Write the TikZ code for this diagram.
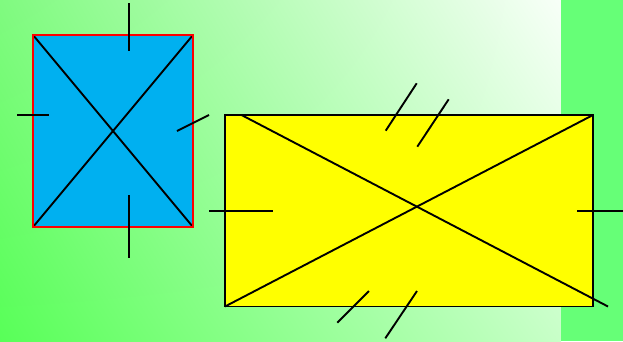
\documentclass[tikz,border=0pt]{standalone}
\usetikzlibrary{calc,shadings}
\definecolor{bgBL}{RGB}{88,255,88}
\definecolor{bgTL}{RGB}{128,250,128}
\definecolor{bgTR}{RGB}{248,255,248}
\definecolor{bgBR}{RGB}{200,255,200}
\definecolor{strip}{RGB}{102,255,119}
\definecolor{skyblue}{RGB}{0,176,240}
\definecolor{yel}{RGB}{255,255,0}
\tikzset{
  ink/.style={line width=1.9pt, black},
  tick/.style={line width=1.9pt, black},
}
\begin{document}
\begin{tikzpicture}[x=1pt,y=-1pt]
\useasboundingbox (0,0) rectangle (623,341);
% background
\shade[upper left=bgTL, upper right=bgTR, lower left=bgBL, lower right=bgBR] (0,0) rectangle (561,341);
\fill[strip] (561,0) rectangle (623,341);
% blue rectangle
\coordinate (b1) at (33,35);
\coordinate (b2) at (193,35);
\coordinate (b3) at (193,227);
\coordinate (b4) at (33,227);
\fill[skyblue] (b1) rectangle (b3);
\draw[ink] (b1) -- (b3);
\draw[ink] (b2) -- (b4);
\draw[red, line width=1.9pt] (b1) rectangle (b3);
\draw[tick] (129,3) -- (129,51);
\draw[tick] (17,115) -- (49,115);
\draw[tick] (177,131) -- (209,115);
\draw[tick] (129,195) -- (129,258);
% yellow rectangle
\coordinate (y1) at (225,115);
\coordinate (y2) at (593,115);
\coordinate (y3) at (593,306.5);
\coordinate (y4) at (225,306.5);
\fill[yel] (y1) rectangle (y3);
\draw[ink] (y1) rectangle (y3);
\draw[ink] (241.5,115) -- (608,306.5);
\draw[ink] (y4) -- (y2);
\draw[tick] (385.7,130.7) -- (416.7,83.3);
\draw[tick] (417.3,146.7) -- (448.7,99.3);
\draw[tick] (337.3,322.7) -- (369,291);
\draw[tick] (385.3,338.3) -- (417,291);
\draw[tick] (209,211) -- (272.7,211);
\draw[tick] (577,211) -- (623,211);
\end{tikzpicture}
\end{document}
